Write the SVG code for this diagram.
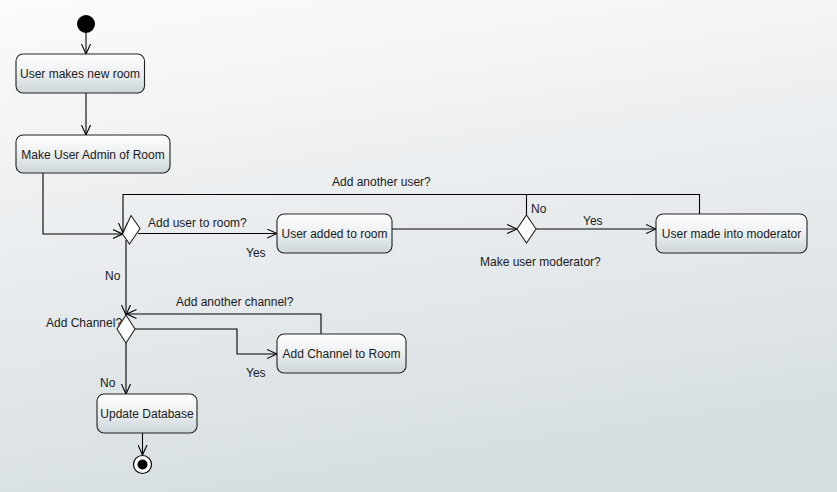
<svg xmlns="http://www.w3.org/2000/svg" width="837" height="492" viewBox="0 0 837 492">
<defs>
<linearGradient id="bg" x1="0" y1="0" x2="0.25" y2="1">
<stop offset="0" stop-color="#fbfbfb"/>
<stop offset="1" stop-color="#d8dfe2"/>
</linearGradient>
<linearGradient id="nodeFill" x1="0" y1="0" x2="0" y2="1">
<stop offset="0" stop-color="#ffffff"/>
<stop offset="0.45" stop-color="#eef1f2"/>
<stop offset="1" stop-color="#ccd5d9"/>
</linearGradient>
<marker id="arr" markerUnits="userSpaceOnUse" viewBox="0 0 10 10" refX="10" refY="5" markerWidth="10" markerHeight="10" orient="auto">
<path d="M0,0.5 L10,5 L0,9.5" fill="none" stroke="#000" stroke-width="1.1"/>
</marker>
</defs>
<style>
.node rect{fill:url(#nodeFill);stroke:#222;stroke-width:1.1}
.lbl{font-family:"Liberation Sans",Arial,sans-serif;font-size:12px;fill:#1a1a1a}
.ntxt{font-family:"Liberation Sans",Arial,sans-serif;font-size:12px;fill:#1a1a1a;text-anchor:middle}
.conn path{fill:none;stroke:#000;stroke-width:1.1}
.dia{fill:#fff;stroke:#222;stroke-width:1.1}
</style>
<rect x="0" y="0" width="837" height="492" fill="url(#bg)"/>

<g id="connectors" class="conn">
<path d="M86,33 V54" marker-end="url(#arr)"/>
<path d="M86,93 V135" marker-end="url(#arr)"/>
<path d="M43,173 V234 H122.5" marker-end="url(#arr)"/>
<path d="M699.5,214 V194.5 H123 V233" marker-end="url(#arr)"/>
<path d="M138,233.5 H277" marker-end="url(#arr)"/>
<path d="M392,229 H517" marker-end="url(#arr)"/>
<path d="M526.5,215 V194.5"/>
<path d="M536,229 H656" marker-end="url(#arr)"/>
<path d="M126,240 V315" marker-end="url(#arr)"/>
<path d="M321,334 V314 H126.5" marker-end="url(#arr)"/>
<path d="M135,329 H237 V354 H277" marker-end="url(#arr)"/>
<path d="M126,343 V394" marker-end="url(#arr)"/>
<path d="M142.5,433 V455" marker-end="url(#arr)"/>
</g>

<g id="start">
<circle cx="86" cy="24" r="9" fill="#000"/>
</g>

<g id="n_new_room" class="node">
<rect x="16" y="54" width="128.5" height="39" rx="7"/>
<text class="ntxt" x="80" y="78">User makes new room</text>
</g>

<g id="n_admin" class="node">
<rect x="16" y="135" width="154" height="38" rx="7"/>
<text class="ntxt" x="93" y="158.5">Make User Admin of Room</text>
</g>

<g id="d_add_user">
<polygon class="dia" points="131,215.5 140,228.5 129.5,244 122.5,234"/>
</g>

<g id="n_user_added" class="node">
<rect x="277" y="214" width="115" height="39" rx="7"/>
<text class="ntxt" x="334.5" y="237.5">User added to room</text>
</g>

<g id="d_moderator">
<polygon class="dia" points="526.5,215 536,229 526.5,243 517,229"/>
</g>

<g id="n_moderator" class="node">
<rect x="656" y="214" width="151" height="39" rx="7"/>
<text class="ntxt" x="731.5" y="237.5">User made into moderator</text>
</g>

<g id="d_channel">
<polygon class="dia" points="126,315 135,329 126,343 117,329"/>
</g>

<g id="n_add_channel" class="node">
<rect x="277" y="334" width="129" height="39" rx="7"/>
<text class="ntxt" x="341.5" y="357.5">Add Channel to Room</text>
</g>

<g id="n_update_db" class="node">
<rect x="97" y="394" width="100" height="39" rx="7"/>
<text class="ntxt" x="147" y="417.5">Update Database</text>
</g>

<g id="end">
<circle cx="142.5" cy="464.5" r="9" fill="#fff" stroke="#000" stroke-width="1.2"/>
<circle cx="142.5" cy="464.5" r="5" fill="#000"/>
</g>

<g id="labels">
<text class="lbl" x="332" y="186">Add another user?</text>
<text class="lbl" x="148" y="227">Add user to room?</text>
<text class="lbl" x="246" y="256.5">Yes</text>
<text class="lbl" x="105" y="280">No</text>
<text class="lbl" x="531" y="213">No</text>
<text class="lbl" x="583" y="224.5">Yes</text>
<text class="lbl" x="480" y="265.5">Make user moderator?</text>
<text class="lbl" x="176" y="306">Add another channel?</text>
<text class="lbl" x="46" y="326.5">Add Channel?</text>
<text class="lbl" x="246" y="376.5">Yes</text>
<text class="lbl" x="100" y="386.5">No</text>
</g>
</svg>
